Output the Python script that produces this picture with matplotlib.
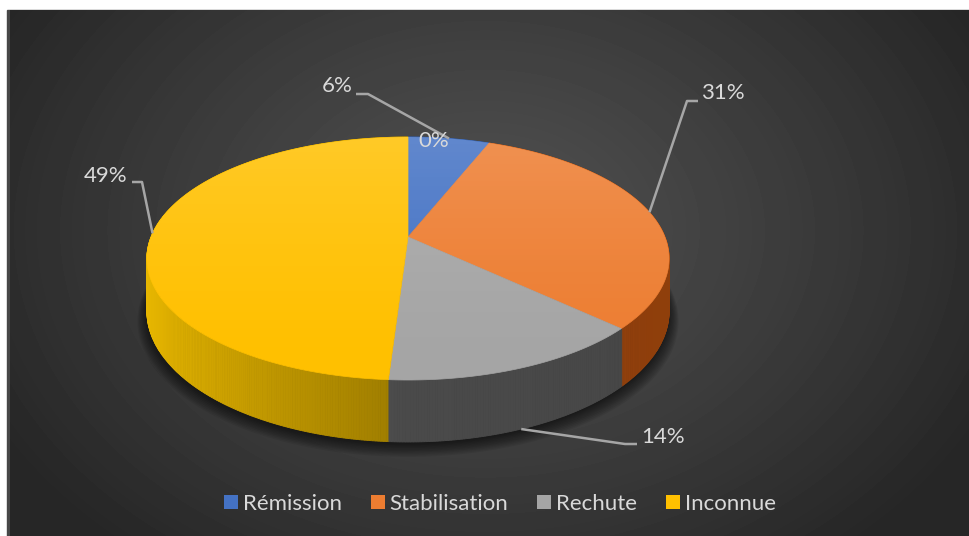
import numpy as np
import matplotlib
matplotlib.use("Agg")
import matplotlib.pyplot as plt
from matplotlib.patches import Polygon, Patch, Rectangle
from matplotlib.colors import to_rgb

categories = ["Rémission", "Stabilisation", "Rechute", "Inconnue"]
values = [6, 31, 14, 49]
pct_labels = ["6%", "31%", "14%", "49%"]
zero_label = "0%"
top_colors = ["#4472C4", "#ED7D31", "#A5A5A5", "#FFC000"]
# wall colour where the wall faces the viewer straight on
side_colors = ["#2A4C8A", "#96420C", "#4A4A4A", "#9C7B00"]

# label text centre and elbow of the leader line, pixel space
label_pos = [(337, 86), (723, 93), (663, 437), (106, 176)]
elbows = [((356, 94), (368, 94)), ((698, 101), (687, 101)),
          ((637, 444), (625, 444)), ((132, 182), (142, 182))]

W, H = 969, 536
fig = plt.figure(figsize=(W / 100, H / 100), dpi=100, facecolor="white")
ax = fig.add_axes([0, 0, 1, 1])

# dark radial background
ax.add_patch(Rectangle((7, 10), W - 7, H - 10, color="#474747", zorder=0))
yy, xx = np.mgrid[10:H, 10:W]
r = np.sqrt(((xx - 485) / 560.) ** 2 + ((yy - 230) / 420.) ** 2)
g = (0x50 - (0x50 - 0x26) * np.clip(r, 0, 1) ** 1.2) / 255.
ax.imshow(g, cmap="gray", vmin=0, vmax=1, extent=(10, W, H, 10),
          zorder=0.5, interpolation="bilinear")

# perspective disc
CX, CY = 408, 237
SX, TY, K, DEPTH = 257, 117.7, 0.177, 51


def proj(phi, drop=0.0):
    u, v = np.sin(phi), np.cos(phi)
    d = 1 + K * v
    return CX + SX * u / d, CY - TY * v / d + drop / d


total = float(sum(values))
bounds = np.concatenate([[0], np.cumsum(values) / total]) * 2 * np.pi

# soft shadow under the disc
phis = np.linspace(0, 2 * np.pi, 400)
bx, by = proj(phis, DEPTH)
for i in range(10):
    s = 1 + 0.004 * i
    pts = np.column_stack([CX + (bx - CX) * s, CY + (by - CY) * s + 2 + i * 0.6])
    ax.add_patch(Polygon(pts, closed=True, color="black", alpha=0.07, lw=0, zorder=1))

# outer wall, far segments first
nseg = 720
seg = np.linspace(0, 2 * np.pi, nseg + 1)
quads = []
for a0, a1 in zip(seg[:-1], seg[1:]):
    mid = 0.5 * (a0 + a1)
    idx = np.searchsorted(bounds, mid) - 1
    u = np.sin(mid)
    f = 1 + 0.5 * max(0.0, -u) - 0.05 * max(0.0, u)
    col = np.clip(np.array(to_rgb(side_colors[idx])) * f, 0, 1)
    x0, y0 = proj(a0)
    x1, y1 = proj(a1)
    x2, y2 = proj(a1, DEPTH)
    x3, y3 = proj(a0, DEPTH)
    quads.append((np.cos(mid), [(x0, y0), (x1, y1), (x2, y2), (x3, y3)], col))
quads.sort(key=lambda q: -q[0])
for _, pts, col in quads:
    ax.add_patch(Polygon(pts, closed=True, facecolor=col, edgecolor=col, lw=0.6, zorder=2))

# top faces
for i in range(len(values)):
    arc = np.linspace(bounds[i], bounds[i + 1], 200)
    ax_, ay_ = proj(arc)
    pts = np.column_stack([np.r_[CX, ax_], np.r_[CY, ay_]])
    ax.add_patch(Polygon(pts, closed=True, facecolor=top_colors[i],
                         edgecolor=top_colors[i], lw=0.5, zorder=3))

# light sheen on the top, brighter at the back
tx, ty = proj(phis)
top_poly = Polygon(np.column_stack([tx, ty]), closed=True, facecolor="none", lw=0)
ax.add_patch(top_poly)
gy = np.linspace(0, 1, 256)[:, None] * np.ones((1, 4))
sheen = np.zeros((256, 4, 4))
sheen[..., :3] = 1.0
sheen[..., 3] = 0.16 * (1 - gy) ** 1.5
im = ax.imshow(sheen, extent=(tx.min(), tx.max(), ty.max(), ty.min()),
               zorder=3.5, interpolation="bilinear")
im.set_clip_path(top_poly)

# data labels with leader lines
lab_kw = dict(color="#D9D9D9", fontsize=16, family="Lato", ha="center", va="center", zorder=6)
for i in range(len(values)):
    mid = 0.5 * (bounds[i] + bounds[i + 1])
    drop = DEPTH if np.cos(mid) < -0.5 else 0.0
    axp, ayp = proj(mid, drop)
    (ex0, ey0), (ex1, ey1) = elbows[i]
    ax.plot([ex0, ex1, axp], [ey0, ey1, ayp], color="#A6A6A6", lw=1.8,
            solid_capstyle="butt", zorder=5)
    ax.text(label_pos[i][0], label_pos[i][1], pct_labels[i], **lab_kw)
zx, zy = proj(bounds[0])
ax.text(zx + 26, zy + 4, zero_label, **lab_kw)

handles = [Patch(facecolor=c, edgecolor="none") for c in top_colors]
leg = ax.legend(handles, categories, loc="center", bbox_to_anchor=(500 / W, 1 - 504 / H),
                ncol=4, frameon=False, handlelength=0.63, handleheight=0.63,
                handletextpad=0.22, columnspacing=1.3, borderpad=0.2,
                prop={"family": "Lato", "size": 16})
for t in leg.get_texts():
    t.set_color("#D9D9D9")

ax.set_xlim(0, W)
ax.set_ylim(H, 0)
ax.set_aspect("auto")
ax.axis("off")
fig.savefig("out.png", dpi=100, facecolor="white")
